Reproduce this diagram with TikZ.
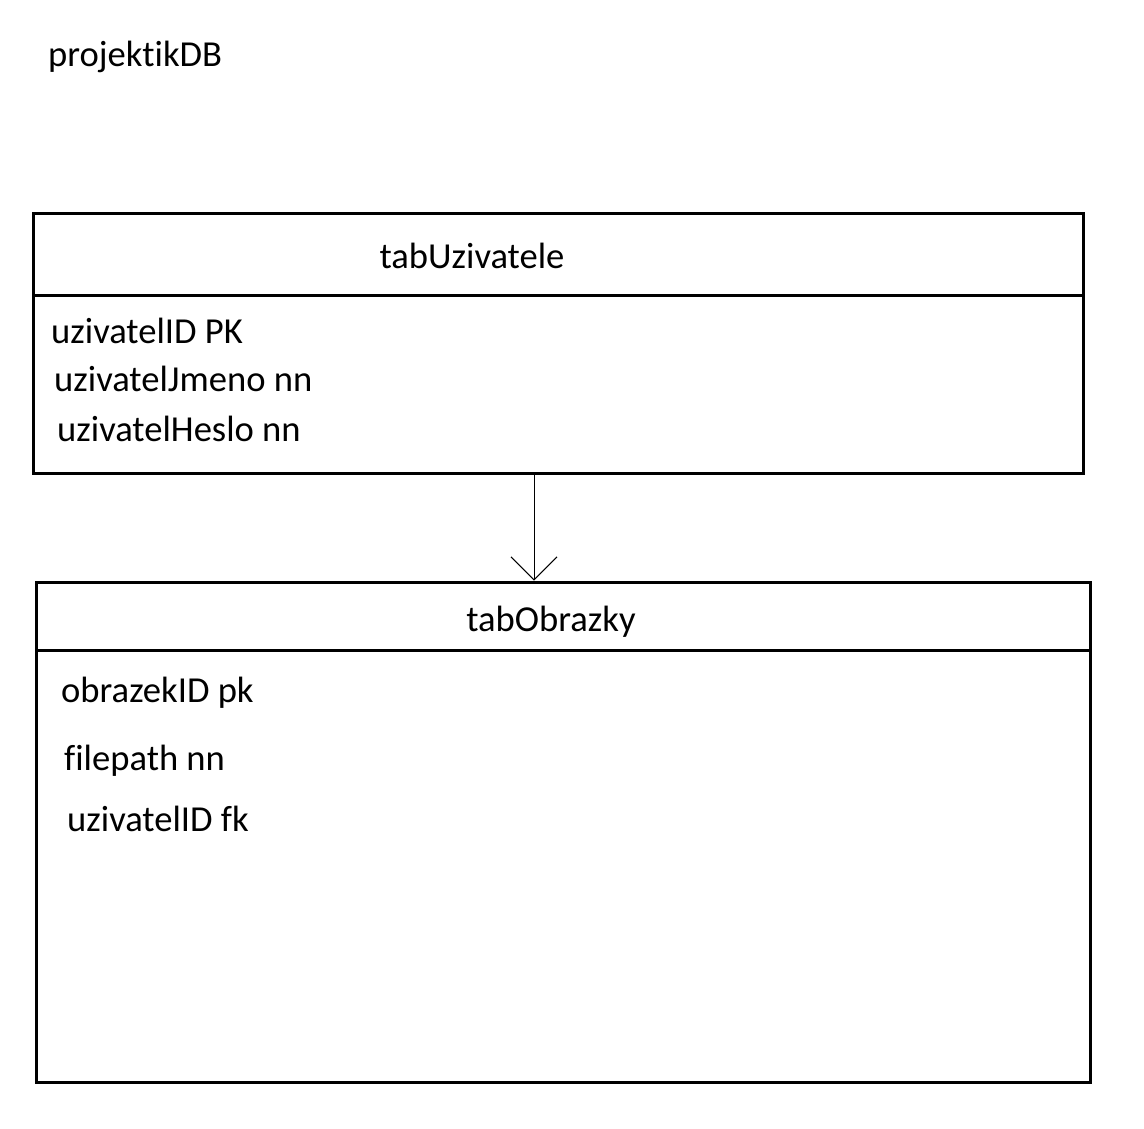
\documentclass[tikz,border=0pt]{standalone}
\usepackage{fontspec}
\setmainfont{Carlito}[Ligatures={NoCommon}]
\usetikzlibrary{arrows.meta}
\begin{document}
\begin{tikzpicture}[x=1pt,y=-1pt,
  tablebox/.style={draw,line width=3pt,inner sep=0pt},
  sepline/.style={line width=3pt},
  lbl/.style={font=\fontsize{36.6}{43}\selectfont,inner sep=0pt,anchor=west},
  title/.style={font=\fontsize{36.6}{43}\selectfont,inner sep=0pt},
  conn/.style={line width=1pt,-{Straight Barb[length=23pt,width=46pt,line width=1pt]}}]
\useasboundingbox (0,0) rectangle (1144,1128);
\node[lbl] (db) at (48,57) {projektikDB};
% tabUzivatele
\node[tablebox,minimum width=1050pt,minimum height=260pt] (u) at (558,343) {};
\draw[sepline] (33,295) -- (1083,295);
\node[title] (ut) at (472,256) {tabUzivatele};
\node[lbl] (u1) at (51,331) {uzivatelID PK};
\node[lbl] (u2) at (54,379) {uzivatelJmeno nn};
\node[lbl] (u3) at (57,429) {uzivatelHeslo nn};
% tabObrazky
\node[tablebox,minimum width=1054pt,minimum height=500pt] (o) at (563,832) {};
\draw[sepline] (36,650) -- (1090,650);
\node[title] (ot) at (551,622) {tabObrazky};
\node[lbl] (o1) at (61,693) {obrazekID pk};
\node[lbl] (o2) at (64,761) {filepath nn};
\node[lbl] (o3) at (67,819) {uzivatelID fk};
% connector
\draw[conn] (u.south -| 534,0) -- (o.north -| 534,0);
\end{tikzpicture}
\end{document}
